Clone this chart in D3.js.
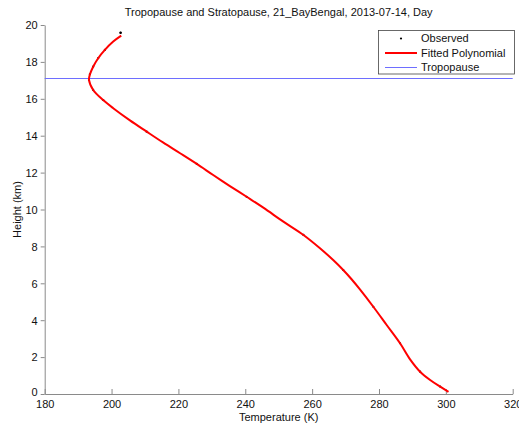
<!DOCTYPE html>
<html>
<head>
<meta charset="utf-8">
<script src="https://cdn.jsdelivr.net/npm/d3@7"></script>
<style>
  html, body { margin: 0; padding: 0; background: #fff; }
  svg { display: block; font-family: "Liberation Sans", Arial, sans-serif; }
</style>
</head>
<body>
<svg id="chart" width="519" height="425"></svg>
<script>
// Fitted temperature profile (height in km, temperature in K)
const fitHeight = [0.12, 0.40, 0.76, 1.21, 1.88, 2.75, 3.74, 4.73, 5.67, 6.22, 6.72, 7.26, 7.90, 8.62, 9.34, 10.10, 10.69, 11.27, 11.87, 12.47, 13.05, 13.62, 14.22, 14.83, 15.49, 15.93, 16.48, 17.02, 17.33, 17.74, 18.20, 18.65, 19.10, 19.42];
const fitTemp   = [300.8, 298.3, 295.3, 292.3, 289.3, 286.3, 282.3, 278.3, 274.3, 271.8, 269.3, 266.3, 262.35, 257.4, 251.4, 245.4, 240.4, 235.4, 230.4, 225.5, 220.5, 215.5, 210.5, 205.5, 200.5, 197.5, 194.5, 193.25, 193.55, 194.5, 196.0, 198.0, 200.5, 202.9];

// Observed soundings
const obsHeight = [0.40, 1.21, 2.75, 4.73, 6.72, 8.62, 10.69, 12.47, 14.22, 15.93, 16.48, 17.02, 17.33, 17.74, 18.20, 18.65, 19.58];
const obsTemp   = [298.3, 292.3, 286.3, 278.3, 269.3, 257.4, 240.4, 225.5, 210.5, 197.5, 194.5, 193.25, 193.5, 194.5, 196.0, 198.0, 202.7];

const tropopauseHeight = 17.1;

const xTicks = [180, 200, 220, 240, 260, 280, 300, 320];
const yTicks = [0, 2, 4, 6, 8, 10, 12, 14, 16, 18, 20];

const titleText = "Tropopause and Stratopause, 21_BayBengal, 2013-07-14, Day";
const xLabel = "Temperature (K)";
const yLabel = "Height (km)";
const legendLabels = ["Observed", "Fitted Polynomial", "Tropopause"];

const svg = d3.select("#chart");
const plotLeft = 44.7, plotRight = 512.7, plotTop = 25, plotBottom = 394;

const x = d3.scaleLinear().domain([180, 320]).range([plotLeft, plotRight]);
const y = d3.scaleLinear().domain([0, 20]).range([plotBottom, plotTop]);

const axisColor = "#8a8a8a";

// Title
svg.append("text")
  .attr("x", (plotLeft + plotRight) / 2).attr("y", 16)
  .attr("text-anchor", "middle")
  .attr("font-size", 11).attr("fill", "#111")
  .text(titleText);

// X axis (ticks point into the plot)
const gx = svg.append("g").attr("transform", `translate(0,${plotBottom})`)
  .call(d3.axisBottom(x).tickValues(xTicks).tickSizeInner(-5).tickSizeOuter(0).tickPadding(8));
gx.select(".domain").attr("stroke", axisColor);
gx.selectAll(".tick line").attr("stroke", axisColor);
gx.selectAll(".tick text").attr("font-size", 11).attr("fill", "#111")
  .attr("font-family", "Liberation Sans, Arial, sans-serif").attr("dy", "0.95em")
  .attr("y", 4);

// Y axis
const gy = svg.append("g").attr("transform", `translate(${plotLeft},0)`)
  .call(d3.axisLeft(y).tickValues(yTicks).tickSizeInner(4).tickSizeOuter(0).tickPadding(3));
gy.select(".domain").attr("stroke", axisColor);
gy.selectAll(".tick line").attr("stroke", axisColor);
gy.selectAll(".tick text").attr("font-size", 11).attr("fill", "#111")
  .attr("font-family", "Liberation Sans, Arial, sans-serif")
  .attr("dy", d => d === 0 ? "0.1em" : "0.35em");

// Axis labels
svg.append("text")
  .attr("x", (plotLeft + plotRight) / 2).attr("y", 421)
  .attr("text-anchor", "middle").attr("font-size", 11).attr("fill", "#111")
  .text(xLabel);
svg.append("text")
  .attr("transform", `translate(21,${(plotTop + plotBottom) / 2}) rotate(-90)`)
  .attr("text-anchor", "middle").attr("font-size", 11).attr("fill", "#111")
  .text(yLabel);

// Tropopause line
svg.append("line")
  .attr("x1", x(180)).attr("x2", x(320))
  .attr("y1", y(tropopauseHeight)).attr("y2", y(tropopauseHeight))
  .attr("stroke", "#6e6eff").attr("stroke-width", 1);

// Observed points (mostly beneath the fitted curve)
const obs = obsHeight.map((h, i) => ({ h, t: obsTemp[i] }));
svg.append("g").selectAll("circle").data(obs).join("circle")
  .attr("cx", d => x(d.t)).attr("cy", d => y(d.h))
  .attr("r", 1.1).attr("fill", "#000");

// Fitted polynomial curve
const fit = fitHeight.map((h, i) => ({ h, t: fitTemp[i] }));
const line = d3.line().x(d => x(d.t)).y(d => y(d.h)).curve(d3.curveCatmullRom.alpha(0.5));
svg.append("path").datum(fit)
  .attr("d", line).attr("fill", "none")
  .attr("stroke", "#f00").attr("stroke-width", 2);

// Top observation stays visible above the curve end
svg.append("circle")
  .attr("cx", x(obsTemp[obsTemp.length - 1])).attr("cy", y(obsHeight[obsHeight.length - 1]))
  .attr("r", 1.2).attr("fill", "#000");

// Legend
const lg = svg.append("g");
lg.append("rect").attr("x", 378.5).attr("y", 30.5).attr("width", 136).attr("height", 43.5)
  .attr("fill", "#fff").attr("stroke", "#444").attr("stroke-width", 0.8);
const rowY = [38.5, 53, 67.5];
lg.append("circle").attr("cx", 401).attr("cy", rowY[0]).attr("r", 1.1).attr("fill", "#000");
lg.append("line").attr("x1", 385).attr("x2", 417).attr("y1", rowY[1]).attr("y2", rowY[1])
  .attr("stroke", "#f00").attr("stroke-width", 2);
lg.append("line").attr("x1", 385).attr("x2", 417).attr("y1", rowY[2]).attr("y2", rowY[2])
  .attr("stroke", "#6e6eff").attr("stroke-width", 1);
lg.selectAll("text.lbl").data(legendLabels).join("text").attr("class", "lbl")
  .attr("x", 421).attr("y", (d, i) => rowY[i]).attr("dy", "0.35em")
  .attr("font-size", 11).attr("fill", "#111").text(d => d);
</script>
</body>
</html>
